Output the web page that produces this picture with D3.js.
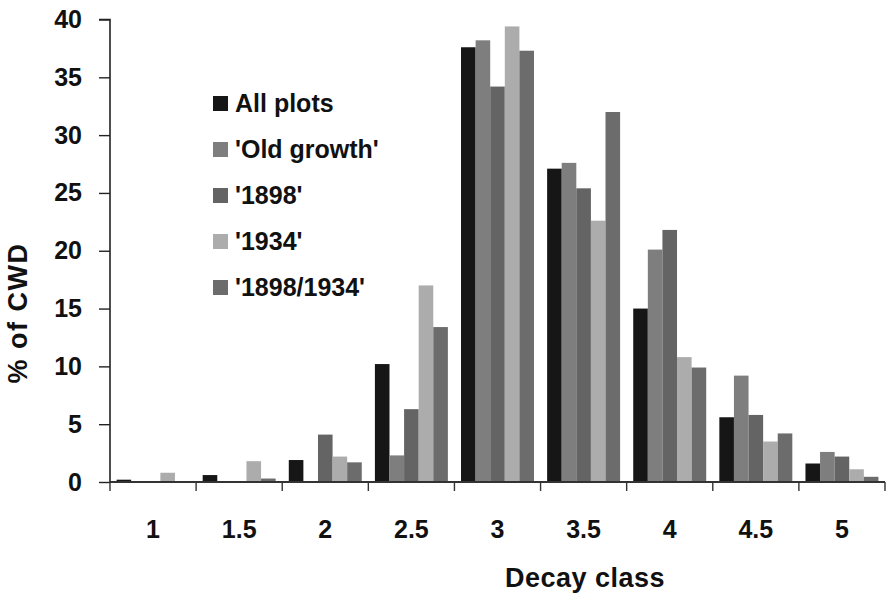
<!DOCTYPE html>
<html>
<head>
<meta charset="utf-8">
<script src="https://cdn.jsdelivr.net/npm/d3@7/dist/d3.min.js"></script>
<style>
  html, body { margin: 0; padding: 0; background: #ffffff; }
  svg { display: block; }
  text { font-family: "Liberation Sans", Arial, sans-serif; font-weight: bold; fill: #111; }
</style>
</head>
<body>
<script>
// ---- data ----
const categories = ["1", "1.5", "2", "2.5", "3", "3.5", "4", "4.5", "5"];
const seriesNames = ["All plots", "'Old growth'", "'1898'", "'1934'", "'1898/1934'"];
const allPlots   = [0.2, 0.6, 1.9, 10.2, 37.6, 27.1, 15.0, 5.6, 1.6];
const oldGrowth  = [0.0, 0.0, 0.0, 2.3, 38.2, 27.6, 20.1, 9.2, 2.6];
const s1898      = [0.0, 0.0, 4.1, 6.3, 34.2, 25.4, 21.8, 5.8, 2.2];
const s1934      = [0.8, 1.8, 2.2, 17.0, 39.4, 22.6, 10.8, 3.5, 1.1];
const s1898_1934 = [0.0, 0.3, 1.7, 13.4, 37.3, 32.0, 9.9, 4.2, 0.45];
const yTicks = [0, 5, 10, 15, 20, 25, 30, 35, 40];
const colors = ["#161616", "#7e7e7e", "#646464", "#acacac", "#6c6c6c"];

const seriesValues = [allPlots, oldGrowth, s1898, s1934, s1898_1934];

const W = 886, H = 594;
const svg = d3.select("body").append("svg").attr("width", W).attr("height", H);

const x = d3.scaleBand().domain(categories).range([110, 885]).paddingInner(0).paddingOuter(0);
const xs = d3.scaleBand().domain(d3.range(seriesNames.length)).range([0, x.bandwidth()]).paddingInner(0).paddingOuter(0.45);
const y = d3.scaleLinear().domain([0, 40]).range([482, 19.5]);

// bars
seriesValues.forEach((vals, si) => {
  svg.append("g").selectAll("rect")
    .data(vals.map((v, i) => ({ cat: categories[i], v })))
    .join("rect")
    .attr("x", d => x(d.cat) + xs(si))
    .attr("width", xs.bandwidth())
    .attr("y", d => y(d.v))
    .attr("height", d => y(0) - y(d.v))
    .attr("fill", colors[si]);
});

// y axis
const yAxis = d3.axisLeft(y).tickValues(yTicks).tickSize(11).tickPadding(17).tickFormat(d3.format("d"));
const gy = svg.append("g").attr("transform", "translate(110,0)").call(yAxis);
gy.select(".domain").attr("stroke", "#222").attr("stroke-width", 1.6).attr("d", `M-11,${y(40)}H0V${y(0)}`);
gy.selectAll(".tick line").attr("stroke", "#222").attr("stroke-width", 1.4);
gy.selectAll(".tick text").style("font-size", "25px").attr("fill", "#111")
  .style("font-family", "'Liberation Sans', Arial, sans-serif").style("font-weight", "bold");

// x axis line and boundary ticks
const gx = svg.append("g").attr("transform", `translate(0,${y(0)})`);
gx.append("line").attr("x1", 110).attr("x2", 885).attr("y1", 0).attr("y2", 0)
  .attr("stroke", "#333").attr("stroke-width", 2);
const boundaries = categories.map(c => x(c)).concat([x(categories[categories.length - 1]) + x.bandwidth()]);
gx.selectAll("line.b").data(boundaries).join("line").attr("class", "b")
  .attr("x1", d => d).attr("x2", d => d).attr("y1", 0).attr("y2", 9)
  .attr("stroke", "#333").attr("stroke-width", 1.4);
gx.selectAll("text").data(categories).join("text")
  .attr("x", d => x(d) + x.bandwidth() / 2)
  .attr("y", 56)
  .attr("text-anchor", "middle")
  .style("font-size", "25px")
  .text(d => d);

// axis titles
svg.append("text").attr("x", 585).attr("y", 587).attr("text-anchor", "middle")
  .style("font-size", "27px").style("letter-spacing", "0.5px").text("Decay class");
svg.append("text").attr("transform", "translate(27,313) rotate(-90)").attr("text-anchor", "middle")
  .style("font-size", "27px").style("letter-spacing", "1.5px").text("% of CWD");

// legend
const lg = svg.append("g").attr("transform", "translate(213,96)");
seriesNames.forEach((name, i) => {
  const row = lg.append("g").attr("transform", `translate(0,${i * 46})`);
  row.append("rect").attr("x", 0).attr("y", 0).attr("width", 15).attr("height", 15).attr("fill", colors[i]);
  row.append("text").attr("x", 22).attr("y", 16).style("font-size", "25px").text(name);
});
</script>
</body>
</html>
